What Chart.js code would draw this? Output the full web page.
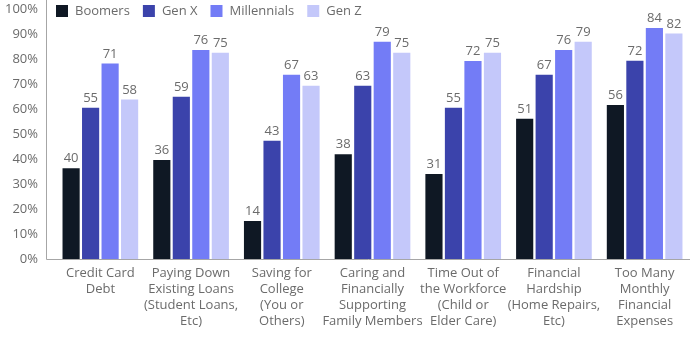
<!DOCTYPE html>
<html><head><meta charset="utf-8">
<script src="https://cdn.jsdelivr.net/npm/chart.js@4"></script>
<style>html,body{margin:0;padding:0;background:#fff}#wrap{width:690px;height:338px}</style>
</head><body><div id="wrap"><canvas id="c" width="690" height="338"></canvas></div>
<script>
const categories = [
  ["Credit Card","Debt"],
  ["Paying Down","Existing Loans","(Student Loans,","Etc)"],
  ["Saving for","College","(You or","Others)"],
  ["Caring and","Financially","Supporting","Family Members"],
  ["Time Out of","the Workforce","(Child or","Elder Care)"],
  ["Financial","Hardship","(Home Repairs,","Etc)"],
  ["Too Many","Monthly","Financial","Expenses"]
];
const seriesNames = ["Boomers","Gen X","Millennials","Gen Z"];
const seriesColors = ["#0f1824","#3b43ab","#737cf6","#c4c8fa"];
// bar heights as read on the axis (%)
const boomers     = [36.3, 39.6, 15.2, 41.9, 34.0, 56.1, 61.6];
const genX        = [60.5, 64.9, 47.3, 69.3, 60.5, 73.7, 79.3];
const millennials = [78.2, 83.6, 73.7, 86.9, 79.2, 83.6, 92.4];
const genZ        = [63.8, 82.5, 69.3, 82.5, 82.5, 86.9, 90.2];
// printed value labels
const boomersLbl     = [40, 36, 14, 38, 31, 51, 56];
const genXLbl        = [55, 59, 43, 63, 55, 67, 72];
const millennialsLbl = [71, 76, 67, 79, 72, 76, 84];
const genZLbl        = [58, 75, 63, 75, 75, 79, 82];
const yTicks = [0,10,20,30,40,50,60,70,80,90,100];

const values = [boomers, genX, millennials, genZ];
const labels = [boomersLbl, genXLbl, millennialsLbl, genZLbl];
const FONT = "'Open Sans', sans-serif";
const GRAY = "#6b6b6b";

const extras = {
  id: 'extras',
  afterDraw(chart) {
    const ctx = chart.ctx, a = chart.chartArea;
    ctx.save();
    ctx.strokeStyle = "#a6a6a6"; ctx.lineWidth = 1;
    ctx.beginPath();
    ctx.moveTo(46.5, 0); ctx.lineTo(46.5, a.bottom + 0.5);
    ctx.lineTo(690, a.bottom + 0.5);
    ctx.stroke();
    ctx.font = "13px " + FONT; ctx.fillStyle = GRAY;
    ctx.textAlign = "center"; ctx.textBaseline = "bottom";
    chart.data.datasets.forEach((ds, i) => {
      chart.getDatasetMeta(i).data.forEach((bar, j) => {
        ctx.fillText(String(labels[i][j]), bar.x, bar.y - 3);
      });
    });
    let x = 56; const y = 11;
    ctx.textAlign = "left"; ctx.textBaseline = "middle";
    chart.data.datasets.forEach((ds) => {
      ctx.fillStyle = ds.backgroundColor;
      ctx.fillRect(x, y - 6, 12, 12);
      ctx.fillStyle = GRAY;
      ctx.fillText(ds.label, x + 19, y);
      x += 19 + ctx.measureText(ds.label).width + 13;
    });
    ctx.restore();
  }
};

new Chart(document.getElementById('c'), {
  type: 'bar',
  data: {
    labels: categories,
    datasets: seriesNames.map((n, i) => ({
      label: n, data: values[i], backgroundColor: seriesColors[i],
      borderWidth: 0, barPercentage: 0.88, categoryPercentage: 0.86
    }))
  },
  options: {
    responsive: false, animation: false,
    layout: { padding: { top: 9, right: 0, left: 0, bottom: 0 } },
    plugins: { legend: { display: false }, tooltip: { enabled: false } },
    scales: {
      y: {
        min: 0, max: 100,
        afterFit(s) { s.width = 55; s.paddingTop = 0; s.paddingBottom = 0; },
        afterBuildTicks(s) { s.ticks = yTicks.map(v => ({ value: v })); },
        grid: { display: false, drawTicks: false },
        border: { display: false },
        ticks: { padding: 17, color: GRAY, font: { family: FONT, size: 13 }, callback: v => v + '%' }
      },
      x: {
        afterFit(s) { s.height = 79; s.paddingLeft = 0; s.paddingRight = 0; s.paddingTop = 0; s.paddingBottom = 0; },
        grid: { display: false, drawTicks: false },
        border: { display: false },
        ticks: { padding: 6, color: GRAY, maxRotation: 0, autoSkip: false, font: { family: FONT, size: 13, lineHeight: 1.23 } }
      }
    }
  },
  plugins: [extras]
});
</script></body></html>
